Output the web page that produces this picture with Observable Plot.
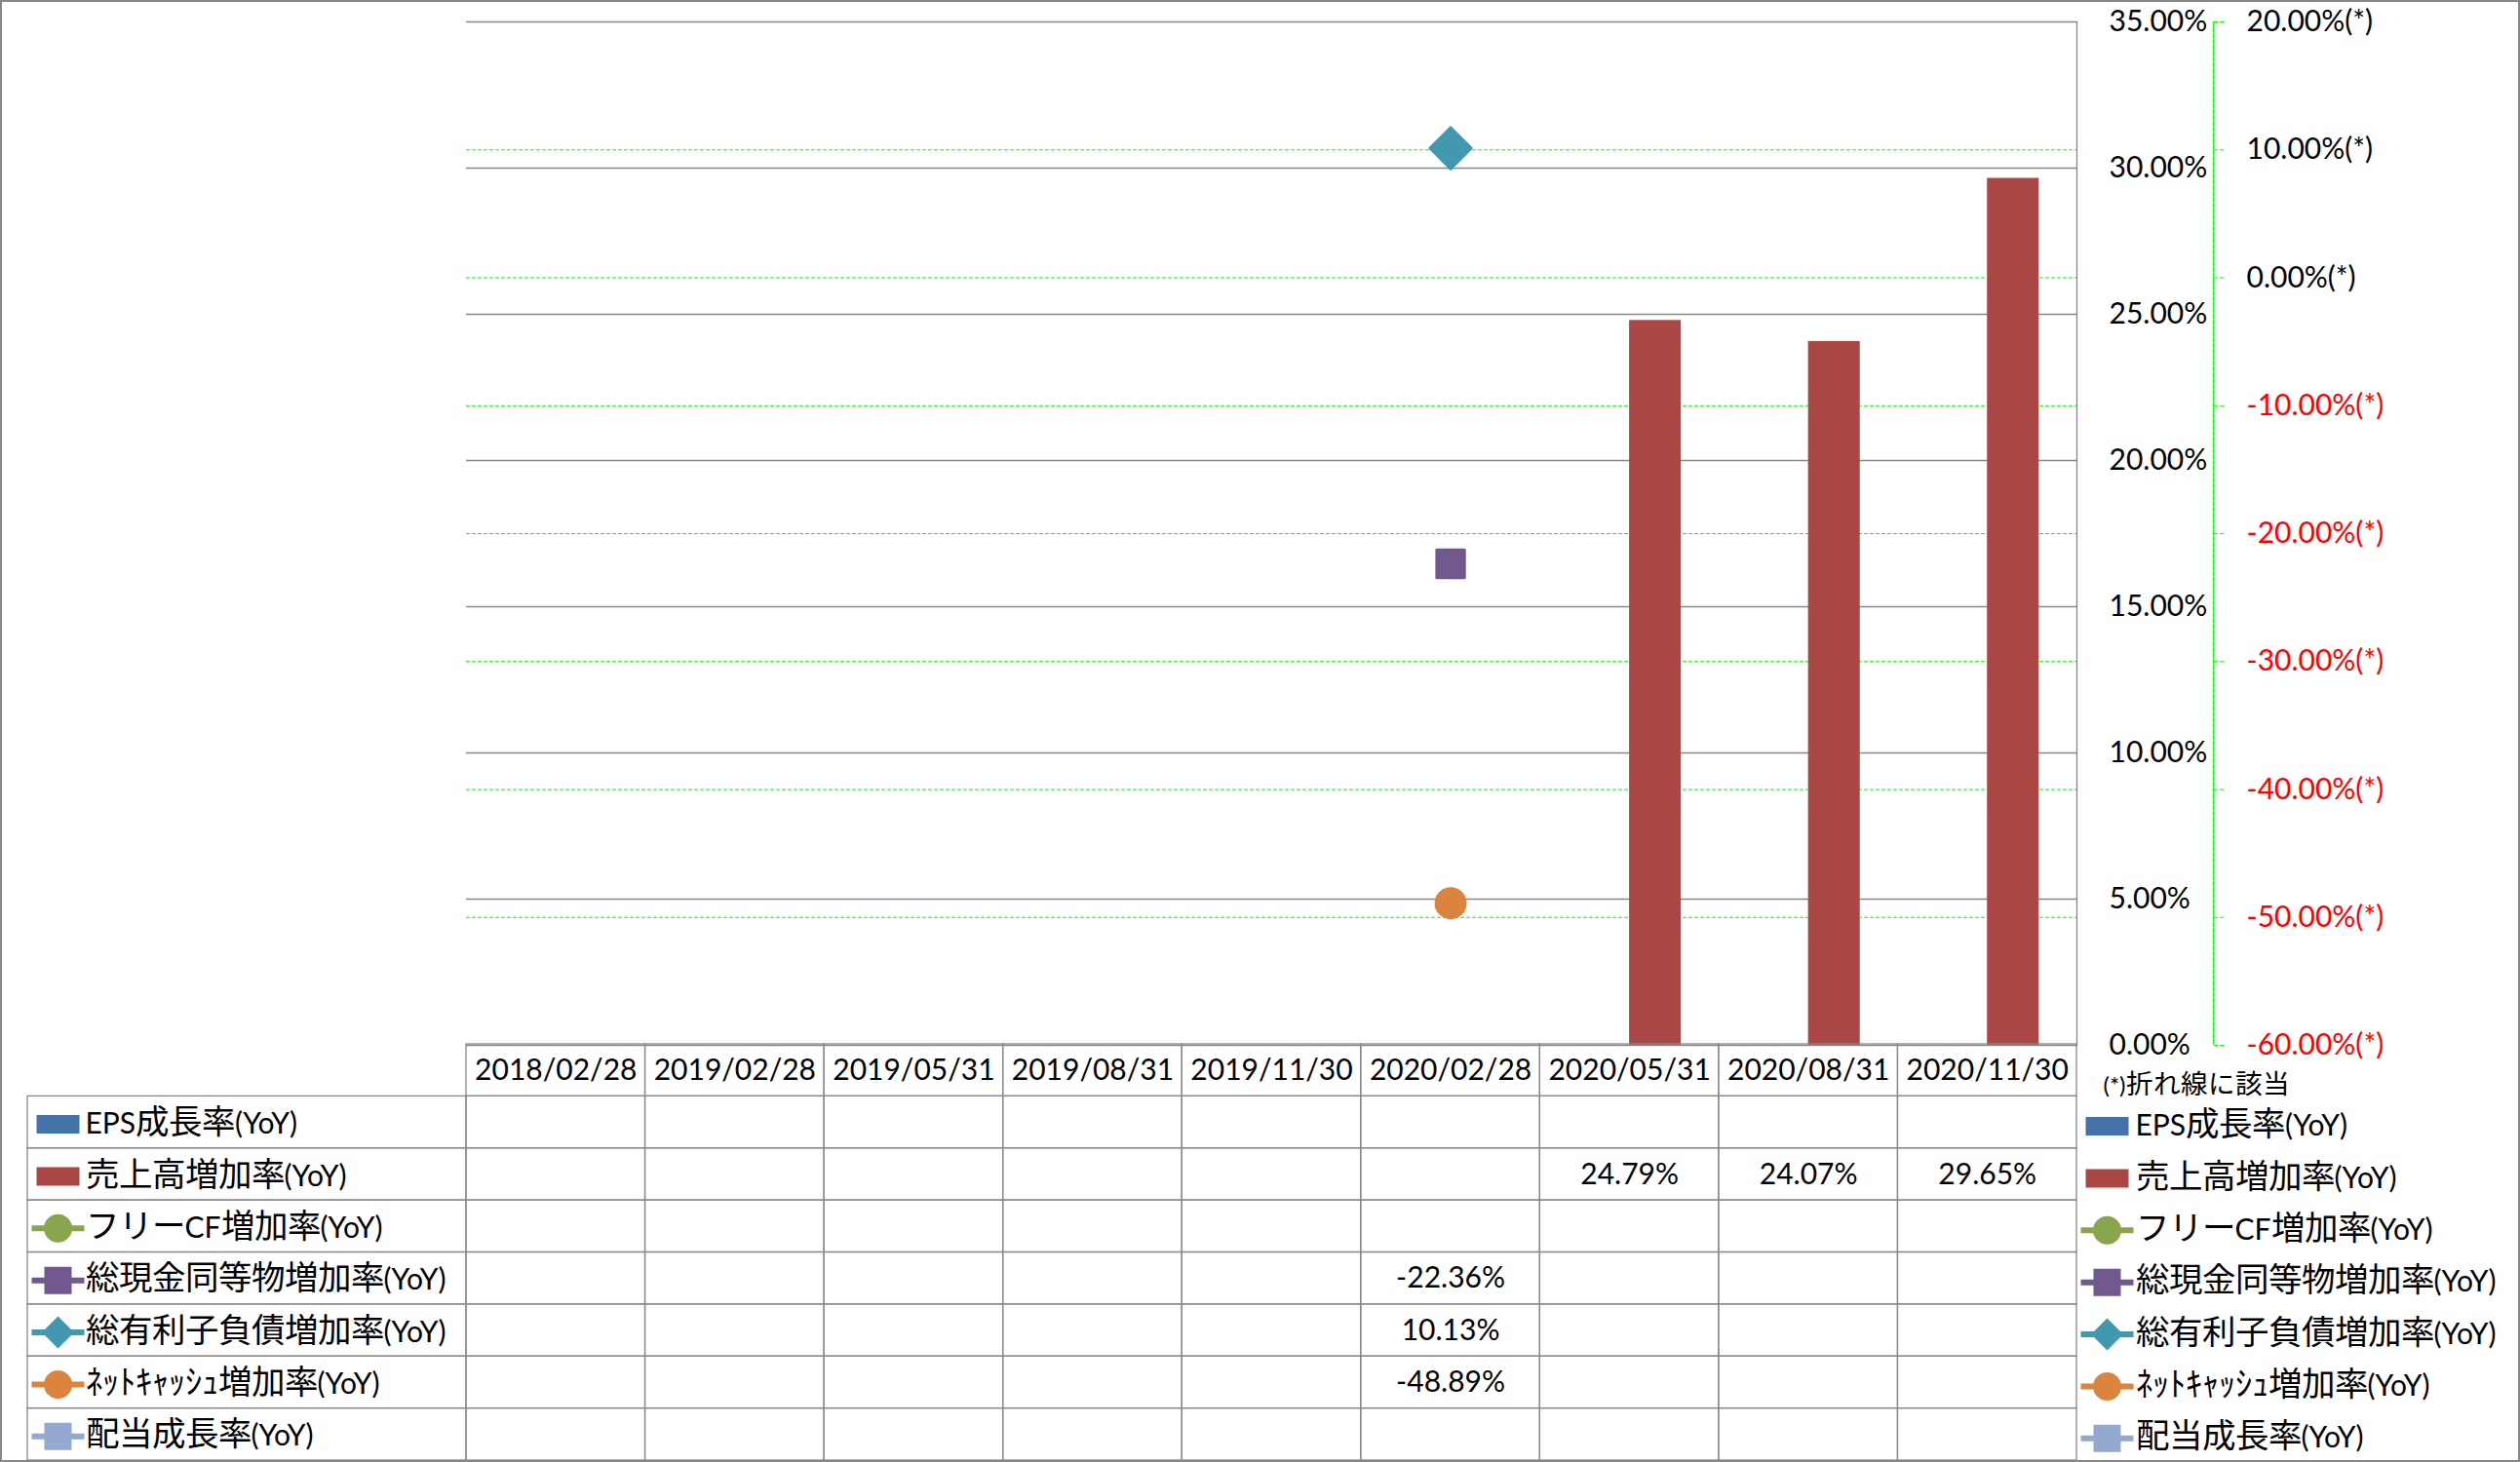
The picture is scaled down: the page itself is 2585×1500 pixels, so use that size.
<!DOCTYPE html>
<html>
<head>
<meta charset="utf-8">
<script src="https://cdn.jsdelivr.net/npm/d3@7"></script>
<script src="https://cdn.jsdelivr.net/npm/@observablehq/plot@0.6"></script>
<style>
@font-face {
  font-family: "JPWide";
  src: local("Noto Sans CJK JP Regular"), local("NotoSansCJKjp-Regular"), local("Noto Sans CJK JP");
  size-adjust: 115%;
  unicode-range: U+2E80-9FFF, U+F900-FAFF, U+FF00-FFEF;
}
html, body { margin: 0; padding: 0; background: #fff; overflow: hidden; }
#root { position: relative; width: 2585px; height: 1500px; background: #fff; }
#border { position: absolute; left: 0; top: 0; width: 2585px; height: 1500px; box-sizing: border-box; border: 2px solid #878787; pointer-events: none; }
</style>
</head>
<body>
<div id="root"><div id="border"></div></div>
<script>
// ---------------- data ----------------
const dates = ["2018/02/28","2019/02/28","2019/05/31","2019/08/31","2019/11/30","2020/02/28","2020/05/31","2020/08/31","2020/11/30"];
const seriesNames = ["EPS成長率(YoY)","売上高増加率(YoY)","フリーCF増加率(YoY)","総現金同等物増加率(YoY)","総有利子負債増加率(YoY)","ﾈｯﾄｷｬｯｼｭ増加率(YoY)","配当成長率(YoY)"];
const epsGrowth      = [null,null,null,null,null,null,null,null,null];
const salesGrowth    = [null,null,null,null,null,null,24.79,24.07,29.65];
const fcfGrowth      = [null,null,null,null,null,null,null,null,null];
const cashGrowth     = [null,null,null,null,null,-22.36,null,null,null];
const debtGrowth     = [null,null,null,null,null,10.13,null,null,null];
const netCashGrowth  = [null,null,null,null,null,-48.89,null,null,null];
const dividendGrowth = [null,null,null,null,null,null,null,null,null];
const primaryTicks   = [0,5,10,15,20,25,30,35];
const secondaryTicks = [20,10,0,-10,-20,-30,-40,-50,-60];
const seriesColors   = ["#4572A7","#AA4643","#89A54E","#71588F","#4198AF","#DB843D","#93A9CF"];
const seriesKinds    = ["bar","bar","circle","square","diamond","circle","square"];
const headerKey = "日付";
const noteText = "(*)折れ線に該当";

// ---------------- layout ----------------
const W = 2585;
const FONT = '"Lato", "JPWide", "Noto Sans CJK JP", sans-serif';
const GRAY = "#878787";
const GREEN = "#00ff00";
const DASH = "4,2";
const mL = 478, mR = 455, mT = 22, chartH = 1100, mB = 28;
const bw = (W - mL - mR) / dates.length;
const barW = bw * 0.289;

const seriesValues = [epsGrowth, salesGrowth, fcfGrowth, cashGrowth, debtGrowth, netCashGrowth, dividendGrowth];
const priMin = d3.min(primaryTicks), priMax = d3.max(primaryTicks);
const secMin = d3.min(secondaryTicks), secMax = d3.max(secondaryTicks);
const toPrimary = s => (s - secMin) / (secMax - secMin) * (priMax - priMin) + priMin;
const toSecondary = p => (p - priMin) / (priMax - priMin) * (secMax - secMin) + secMin;
const fmtSec = p => ((Math.round(toSecondary(p) * 100) / 100) + 0).toFixed(2) + "%(*)";

const rowsOf = vals => dates.map((d, i) => ({date: d, value: vals[i]})).filter(r => r.value != null);

// custom legend symbols (line with marker, or bar swatch)
const stem = ctx => { ctx.moveTo(-27, -3); ctx.lineTo(27, -3); ctx.lineTo(27, 3); ctx.lineTo(-27, 3); ctx.closePath(); };
const legendSymbols = {
  bar: {draw(ctx) { ctx.moveTo(-22, -9.5); ctx.lineTo(22, -9.5); ctx.lineTo(22, 9.5); ctx.lineTo(-22, 9.5); ctx.closePath(); }},
  circle: {draw(ctx) { stem(ctx); ctx.moveTo(14.5, 0); ctx.arc(0, 0, 14.5, 0, 2 * Math.PI); ctx.closePath(); }},
  square: {draw(ctx) { stem(ctx); ctx.moveTo(-14, -14); ctx.lineTo(14, -14); ctx.lineTo(14, 14); ctx.lineTo(-14, 14); ctx.closePath(); }},
  diamond: {draw(ctx) { stem(ctx); ctx.moveTo(0, -16.5); ctx.lineTo(16.5, 0); ctx.lineTo(0, 16.5); ctx.lineTo(-16.5, 0); ctx.closePath(); }}
};
const chartSymbols = {circle: {symbol: "circle", r: 15}, square: {symbol: "square", r: 16}, diamond: {symbol: "diamond2", r: 19}};

const baseStyle = (top) => ({position: "absolute", left: "0px", top: top + "px", background: "transparent", overflow: "visible", fontFamily: FONT, fontSize: "30px", color: "#000"});

// ---------------- chart ----------------
const barMarks = [];
const dotMarks = [];
seriesNames.forEach((name, k) => {
  const rows = rowsOf(seriesValues[k]);
  if (seriesKinds[k] === "bar") {
    const left = k === 0;
    barMarks.push(Plot.barY(rows, {
      x: "date", y: "value", fill: seriesColors[k],
      insetLeft: left ? bw / 2 - barW : bw / 2,
      insetRight: left ? bw / 2 : bw / 2 - barW
    }));
  } else {
    const s = chartSymbols[seriesKinds[k]];
    dotMarks.push(Plot.dot(rows, {
      x: "date", y: d => toPrimary(d.value), symbol: s.symbol, r: s.r,
      fill: seriesColors[k], stroke: seriesColors[k], strokeWidth: 3, strokeLinejoin: "round"
    }));
  }
});

const chart = Plot.plot({
  width: W, height: chartH,
  marginLeft: mL, marginRight: mR, marginTop: mT, marginBottom: mB,
  style: baseStyle(0),
  x: {type: "band", domain: dates, padding: 0, round: false, axis: null},
  y: {domain: [priMin, priMax], nice: false, label: null},
  marks: [
    Plot.ruleY(secondaryTicks.map(toPrimary), {stroke: GREEN, strokeWidth: 1, strokeDasharray: DASH}),
    Plot.ruleY(primaryTicks, {stroke: GRAY, strokeWidth: 1.3}),
    Plot.frame({anchor: "right", stroke: GRAY, strokeWidth: 1.3}),
    Plot.frame({anchor: "right", dx: 140, stroke: GREEN, strokeWidth: 1, strokeDasharray: DASH}),
    ...barMarks,
    ...dotMarks,
    Plot.axisY({anchor: "right", label: null, ticks: primaryTicks, tickSize: 0, tickPadding: 33,
      tickFormat: v => v.toFixed(2) + "%", fill: "#000"}),
    Plot.axisY({anchor: "right", label: null, ticks: secondaryTicks.filter(s => s >= 0).map(toPrimary),
      tickSize: 12, tickPadding: 22, dx: 140, stroke: GREEN, strokeDasharray: DASH,
      tickFormat: fmtSec, fill: "#000"}),
    Plot.axisY({anchor: "right", label: null, ticks: secondaryTicks.filter(s => s < 0).map(toPrimary),
      tickSize: 12, tickPadding: 22, dx: 140, stroke: GREEN, strokeDasharray: DASH,
      tickFormat: fmtSec, fill: "#ff0000"})
  ]
});

// ---------------- data table ----------------
const rowKeys = [headerKey, ...seriesNames];
const tableCells = dates.flatMap(d => rowKeys.map(r => ({date: d, row: r})));
const tableValues = seriesNames.flatMap((name, k) => rowsOf(seriesValues[k]).map(r => ({...r, row: name})));
const tableTop = 1071, tableH = 429;

const table = Plot.plot({
  width: W, height: tableH,
  marginLeft: mL, marginRight: mR, marginTop: 0, marginBottom: 2,
  style: baseStyle(tableTop),
  x: {type: "band", domain: dates, padding: 0, round: false, axis: null},
  y: {type: "band", domain: rowKeys, padding: 0, round: false, axis: null},
  marks: [
    Plot.cell(tableCells, {x: "date", y: "row", stroke: "#898989", strokeWidth: 1.3, fill: "none", inset: 0}),
    Plot.text(dates, {x: d => d, y: () => headerKey, text: d => d}),
    Plot.text(tableValues, {x: "date", y: "row", text: d => d.value.toFixed(2) + "%"}),
    Plot.text([noteText], {y: () => headerKey, text: d => d, frameAnchor: "right", textAnchor: "start", dx: 27, dy: 16, fontSize: 24}),
    Plot.text(seriesNames, {y: d => d, text: d => d, frameAnchor: "right", textAnchor: "start", dx: 60, dy: 4}),
    ...seriesNames.map((name, k) => Plot.dot([name], {y: d => d, frameAnchor: "right", dx: 31, dy: 4,
      symbol: legendSymbols[seriesKinds[k]], fill: seriesColors[k], stroke: "none"}))
  ]
});

// ---------------- legend column of the table ----------------
const legendCol = Plot.plot({
  width: mL, height: tableH,
  marginLeft: 28, marginRight: 0, marginTop: 0, marginBottom: 2,
  style: baseStyle(tableTop),
  y: {type: "band", domain: rowKeys, padding: 0, round: false, axis: null},
  marks: [
    Plot.cell(seriesNames, {y: d => d, stroke: "#898989", strokeWidth: 1.3, fill: "none", inset: 0}),
    Plot.text(seriesNames, {y: d => d, text: d => d, frameAnchor: "left", textAnchor: "start", dx: 59, dy: 2}),
    ...seriesNames.map((name, k) => Plot.dot([name], {y: d => d, frameAnchor: "left", dx: 31, dy: 2,
      symbol: legendSymbols[seriesKinds[k]], fill: seriesColors[k], stroke: "none"}))
  ]
});

const root = document.getElementById("root");
const border = document.getElementById("border");
root.insertBefore(chart, border);
root.insertBefore(table, border);
root.insertBefore(legendCol, border);
</script>
</body>
</html>
